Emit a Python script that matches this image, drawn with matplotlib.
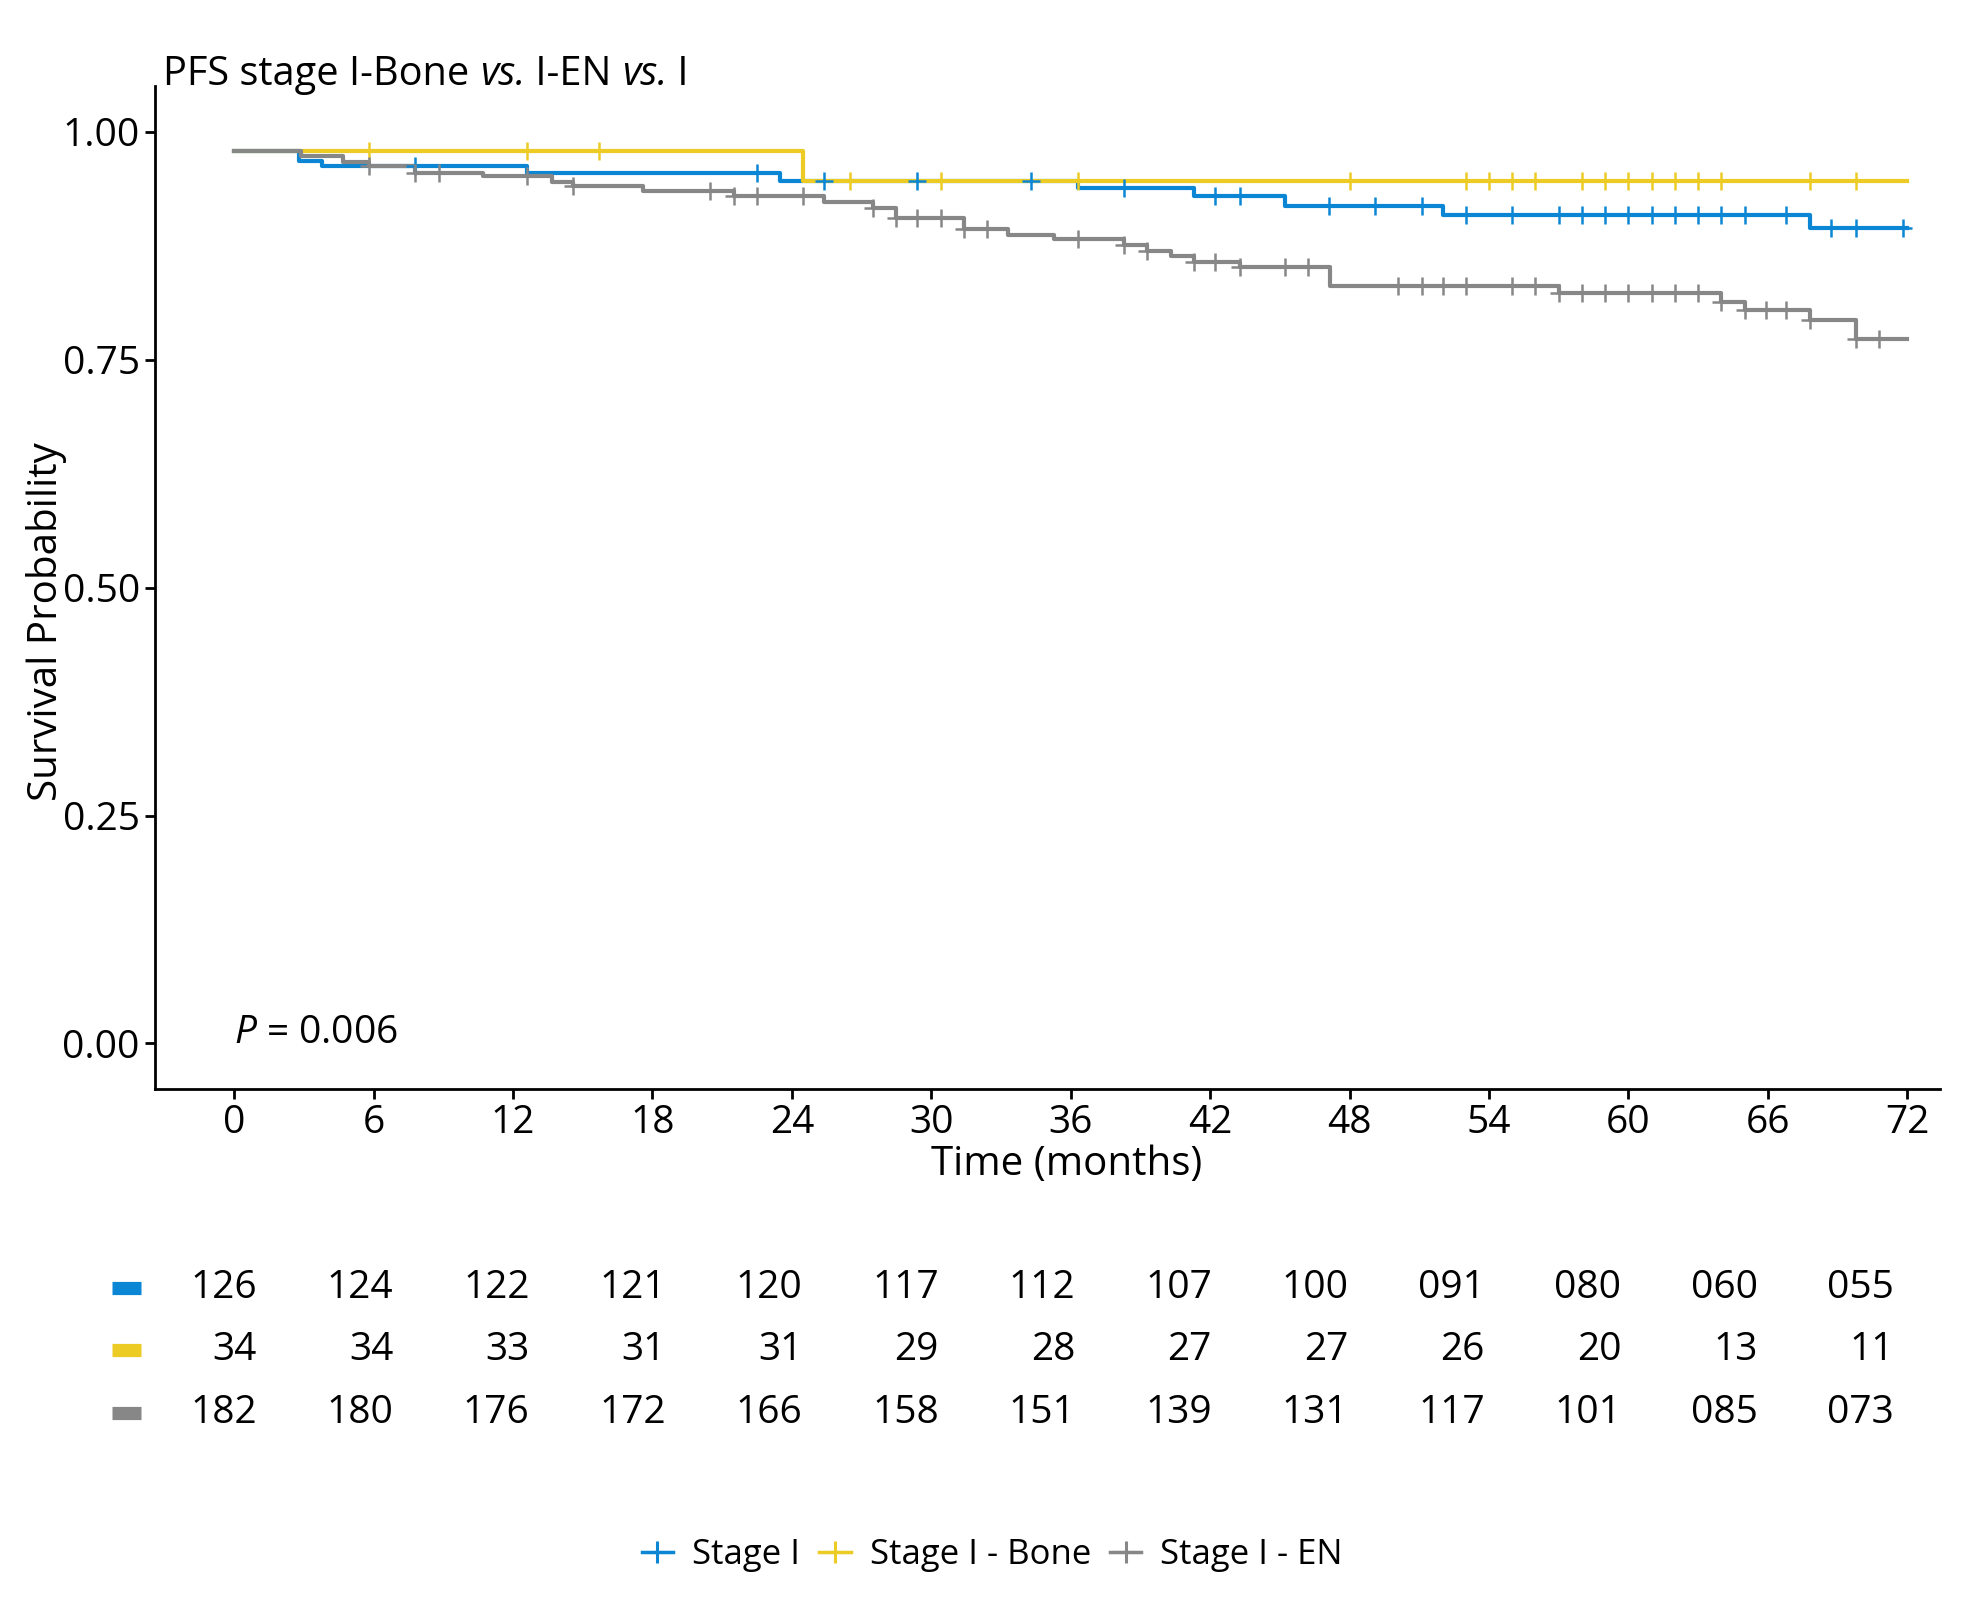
import matplotlib
matplotlib.use('Agg')
import matplotlib.pyplot as plt
from matplotlib.lines import Line2D
import numpy as np

plt.rcParams['font.family'] = ['Open Sans', 'DejaVu Sans']
plt.rcParams['mathtext.fontset'] = 'custom'
plt.rcParams['mathtext.rm'] = 'Open Sans'
plt.rcParams['mathtext.it'] = 'Open Sans:italic'

# groups and colours
groups = ['Stage I', 'Stage I - Bone', 'Stage I - EN']
colors = ['#0A86D4', '#EDCB25', '#878787']

# step curves (time in months, survival after the step)
stage1_t = [0, 2.8, 3.8, 12.6, 23.5, 36.3, 41.3, 45.2, 52.0, 67.8]
stage1_s = [0.979, 0.968, 0.962, 0.955, 0.946, 0.938, 0.929, 0.919, 0.909, 0.894]
stage1_cens = [7.8, 22.5, 25.4, 29.4, 34.3, 38.3, 42.2, 43.3, 47.1, 49.1, 51.1,
               53.0, 55.0, 57.0, 58.0, 59.0, 60.0, 61.0, 62.0, 63.0, 64.0, 65.0,
               66.8, 68.7, 69.8, 71.8]

bone_t = [0, 24.5]
bone_s = [0.979, 0.946]
bone_cens = [5.8, 12.6, 15.7, 26.5, 30.4, 36.3, 48.0, 53.0, 54.0, 55.0, 56.0,
             58.0, 59.0, 60.0, 61.0, 62.0, 63.0, 64.0, 67.8, 69.8]

en_t = [0, 2.9, 4.7, 5.8, 7.8, 10.7, 13.7, 14.6, 17.6, 21.5, 25.4, 27.5, 28.5,
        31.4, 33.3, 35.3, 38.3, 39.3, 40.3, 41.3, 43.3, 47.15, 57.0, 64.0, 65.0,
        67.8, 69.8]
en_s = [0.979, 0.973, 0.967, 0.962, 0.955, 0.951, 0.945, 0.940, 0.935, 0.929,
        0.9225, 0.916, 0.905, 0.893, 0.887, 0.882, 0.876, 0.869, 0.864, 0.857,
        0.852, 0.831, 0.823, 0.813, 0.804, 0.793, 0.773]
en_cens = [5.8, 7.8, 8.8, 12.6, 14.6, 20.5, 21.5, 22.5, 24.5, 27.5, 28.5, 29.4,
           30.4, 31.4, 32.4, 36.3, 38.3, 39.3, 41.3, 42.2, 43.3, 45.2, 46.2,
           50.1, 51.1, 52.0, 53.0, 55.0, 56.0, 57.0, 58.0, 59.0, 60.0, 61.0,
           62.0, 63.0, 64.0, 65.0, 65.9, 66.8, 67.8, 69.8, 70.8]

t_end = 72

# numbers at risk
risk_times = [0, 6, 12, 18, 24, 30, 36, 42, 48, 54, 60, 66, 72]
risk_stage1 = ['126', '124', '122', '121', '120', '117', '112', '107', '100',
               '091', '080', '060', '055']
risk_bone = ['34', '34', '33', '31', '31', '29', '28', '27', '27', '26', '20',
             '13', '11']
risk_en = ['182', '180', '176', '172', '166', '158', '151', '139', '131', '117',
           '101', '085', '073']

curves = [(stage1_t, stage1_s, stage1_cens),
          (bone_t, bone_s, bone_cens),
          (en_t, en_s, en_cens)]
risks = [risk_stage1, risk_bone, risk_en]

title_parts = [('PFS stage I-Bone ', 'normal'), ('vs.', 'italic'),
               (' I-EN ', 'normal'), ('vs.', 'italic'), (' I', 'normal')]

fig = plt.figure(figsize=(19.73, 15.98), dpi=100)
ax = fig.add_axes([0.0786, 0.3185, 0.9046, 0.6276])

for i, (t, s, c) in enumerate(curves):
    ax.step(t + [t_end], s + [s[-1]], where='post', color=colors[i], lw=3.0,
            zorder=2 + i)
for i, (t, s, c) in enumerate(curves):
    idx = np.searchsorted(t, c, side='right') - 1
    ax.plot(c, np.array(s)[idx], ls='none', marker='+', ms=13, mew=1.8,
            color=colors[i], zorder=6 + i)

ax.set_xlim(-3.4, 73.4)
ax.set_ylim(-0.05, 1.05)
ax.set_xticks(risk_times)
ax.set_yticks([0, 0.25, 0.5, 0.75, 1.0])
ax.set_yticklabels(['0.00', '0.25', '0.50', '0.75', '1.00'])
for side in ['top', 'right']:
    ax.spines[side].set_visible(False)
for side in ['left', 'bottom']:
    ax.spines[side].set_linewidth(2.0)
ax.tick_params(labelsize=28, length=7, width=2, pad=4)

ax.text(0, 0.012, r'$\it{P}$ = 0.006', fontsize=28, ha='left', va='center')

# title with italic "vs."
renderer = fig.canvas.get_renderer()
x = 0.0828
for s, style in title_parts:
    t = fig.text(x, 0.953, s, fontsize=28.6, style=style, ha='left', va='center')
    x += t.get_window_extent(renderer).width / fig.bbox.width

fig.text(0.0235, 0.611, 'Survival Probability', fontsize=29, rotation=90,
         ha='center', va='center')
fig.text(0.5407, 0.2714, 'Time (months)', fontsize=29, ha='center', va='center')

# risk table
ax2 = fig.add_axes([0, 0.0924, 1, 0.125])
ax2.axis('off')
ax2.set_xlim(-11.29, 75.47)
ax2.set_ylim(2.6, -0.6)
for r, row in enumerate(risks):
    ax2.plot([-6.35, -5.1], [r, r], color=colors[r], lw=9.5,
             solid_capstyle='butt')
    for tt, val in zip(risk_times, row):
        ax2.text(tt, r, val, fontsize=28, ha='right', va='center')

handles = [Line2D([], [], color=colors[i], lw=2.5, marker='+', ms=16, mew=2.2)
           for i in range(3)]
fig.legend(handles, groups, loc='center', bbox_to_anchor=(0.503, 0.027),
           ncol=3, frameon=False, fontsize=25, handlelength=0.9,
           handletextpad=0.55, columnspacing=0.55)

fig.savefig('out.png', dpi=100)
